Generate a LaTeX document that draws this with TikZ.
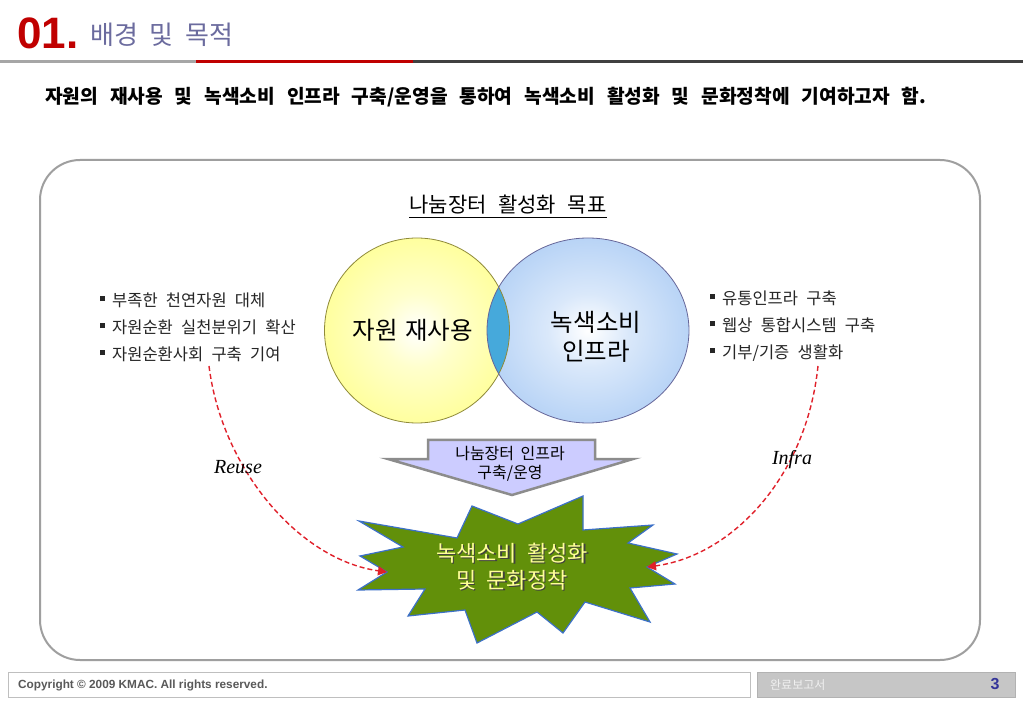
\documentclass[tikz,border=0pt]{standalone}
\usepackage{fontspec}
\setmainfont{Noto Sans CJK KR}
\newfontfamily\latsans{Liberation Sans}
\newfontfamily\latserif{Liberation Serif}
\usetikzlibrary{arrows.meta}
\definecolor{hdred}{HTML}{C00000}
\definecolor{hdblue}{HTML}{6B6B9E}
\definecolor{yelC}{HTML}{FFFF80}
\definecolor{bluC}{HTML}{A2C6F3}
\definecolor{lensC}{HTML}{46A9DB}
\definecolor{lavC}{HTML}{CCCCFF}
\definecolor{starG}{HTML}{62900A}
\definecolor{starB}{HTML}{3C70C8}
\definecolor{starT}{HTML}{FFFF99}
\definecolor{dashR}{HTML}{E0202A}
\definecolor{pgBlue}{HTML}{333399}
\pgfdeclareradialshading{yelsh}{\pgfpoint{0bp}{0bp}}{color(0bp)=(white); color(10bp)=(yelC!40!white); color(30bp)=(yelC!88!white); color(45bp)=(yelC); color(100bp)=(yelC)}
\pgfdeclareradialshading{blush}{\pgfpoint{0bp}{0bp}}{color(0bp)=(white); color(10bp)=(bluC!40!white); color(30bp)=(bluC!88!white); color(45bp)=(bluC); color(100bp)=(bluC)}
\newcommand{\wsp}[1]{\spaceskip=#1em\relax}
\newcommand{\sqbul}{\rule[0.3em]{5pt}{5pt}\hspace{7pt}}
\tikzset{
  listtxt/.style={inner sep=0pt, anchor=west, align=left, text=black!85,
    font=\fontsize{16.5}{27}\selectfont\wsp{0.5}},
  flowdash/.style={draw=dashR, line width=1.4pt, dash pattern=on 5pt off 3pt,
    -{Triangle[length=9pt,width=9pt,fill=dashR]}},
  latlabel/.style={inner sep=0pt, font=\latserif\itshape\fontsize{20}{22}\selectfont},
}
\begin{document}
\begin{tikzpicture}[x=1pt,y=-1pt]
\useasboundingbox[fill=white] (0,0) rectangle (1023,708);
% header
\node[anchor=base west, inner sep=0pt, text=hdred, font=\latsans\bfseries\fontsize{44}{44}\selectfont] (num) at (17,49) {01.};
\node[anchor=base west, inner sep=0pt, text=hdblue, font=\fontsize{26}{26}\selectfont\wsp{0.45}] (head) at (90,45) {배경 및 목적};
\draw[line width=3pt, draw=gray!70] (0,62) -- (196,62);
\draw[line width=3pt, draw=hdred] (196,62) -- (413,62);
\draw[line width=3pt, draw=black!75] (413,62) -- (1023,62);
\node[anchor=base west, inner sep=0pt, font=\bfseries\fontsize{19.2}{20}\selectfont\wsp{0.62}] (sub) at (45,104) {자원의 재사용 및 녹색소비 인프라 구축/운영을 통하여 녹색소비 활성화 및 문화정착에 기여하고자 함.};
% frame
\draw[line width=2pt, draw=gray!75, rounded corners=40pt] (40,160) rectangle (980,660);
% goal title
\node[inner sep=0pt, font=\fontsize{21}{22}\selectfont\wsp{0.55}] (goal) at (508,205) {나눔장터 활성화 목표};
\draw[line width=1pt] ([yshift=-3pt]goal.south west) -- ([yshift=-3pt]goal.south east);
% venn
\shade[shading=yelsh] (417,330.5) circle [radius=92.5pt];
\shade[shading=blush] (588,330.5) ellipse [x radius=101pt, y radius=92.5pt];
\begin{scope}
  \clip (417,330.5) circle [radius=92.5pt];
  \fill[lensC] (588,330.5) ellipse [x radius=101pt, y radius=92.5pt];
\end{scope}
\draw[draw=olive!60!gray, line width=0.8pt] (417,330.5) circle [radius=92.5pt];
\draw[draw=gray!80!blue, line width=0.8pt] (588,330.5) ellipse [x radius=101pt, y radius=92.5pt];
\node[inner sep=0pt, font=\fontsize{24.5}{24.5}\selectfont\wsp{0.3}] (reuse) at (413,330) {자원 재사용};
\node[inner sep=0pt, align=center, font=\fontsize{24.5}{29}\selectfont] (infra) at (596,337) {녹색소비\\인프라};
% lists
\node[listtxt] (lstL) at (100,327) {\sqbul 부족한 천연자원 대체\\\sqbul 자원순환 실천분위기 확산\\\sqbul 자원순환사회 구축 기여};
\node[listtxt] (lstR) at (710,326) {\sqbul 유통인프라 구축\\\sqbul 웹상 통합시스템 구축\\\sqbul 기부/기증 생활화};
% down arrow
\filldraw[fill=lavC, draw=gray!90, line width=2.5pt, line join=miter]
  (428,440) -- (595,440) -- (595,459) -- (633,459) -- (512,495) -- (388,459) -- (428,459) -- cycle;
\node[inner sep=0pt, align=center, font=\fontsize{16}{19}\selectfont\wsp{0.4}] (arr) at (510,464) {나눔장터 인프라\\구축/운영};
% star
\filldraw[fill=starG, draw=starB, line width=1.2pt, line join=miter]
  (472,506) -- (518,524) -- (583,496) -- (583,530) -- (653,525) -- (628,543) --
  (677,554) -- (647,567) -- (675,584) -- (630,588) -- (650,622) -- (585,602) --
  (563,633) -- (537,612) -- (477,643) -- (465,610) -- (408,616) -- (425,589) --
  (358,590) -- (387,572) -- (360,556) -- (403,547) -- (359,521) -- (457,538) -- cycle;
\coordinate (sL) at (387,572);
\coordinate (sR) at (647,567);
\node[inner sep=0pt, align=center, text=black!75, font=\fontsize{22}{27}\selectfont\wsp{0.45}] (goalshadow) at (513.5,568) {녹색소비 활성화\\및 문화정착};
\node[inner sep=0pt, align=center, text=starT, font=\fontsize{22}{27}\selectfont\wsp{0.45}] (goalstar) at (512,566.5) {녹색소비 활성화\\및 문화정착};
% dashed connectors
\coordinate (rL) at (209,366);
\coordinate (iR) at (818,366);
\draw[flowdash] (rL) .. controls (222,470) and (300,560) .. (sL);
\draw[flowdash] (iR) .. controls (806,480) and (730,556) .. (sR);
\node[latlabel] (lblReuse) at (238,467) {Reuse};
\node[latlabel] (lblInfra) at (792,460) {Infra};
% footer
\draw[draw=gray!50, fill=white, line width=0.8pt] (8,672) rectangle (750,697);
\draw[draw=gray!60, fill=gray!45, line width=0.8pt] (757,672) rectangle (1015,697);
\node[anchor=west, inner sep=0pt, text=black!65, font=\latsans\bfseries\fontsize{11.8}{13}\selectfont] (copy) at (18,685) {Copyright © 2009 KMAC. All rights reserved.};
\node[anchor=west, inner sep=0pt, text=white!88!gray, font=\fontsize{12}{13}\selectfont] (rep) at (770,685) {완료보고서};
\node[inner sep=0pt, text=pgBlue, font=\latsans\bfseries\fontsize{16}{16}\selectfont] (pg) at (995,684) {3};
\end{tikzpicture}
\end{document}
